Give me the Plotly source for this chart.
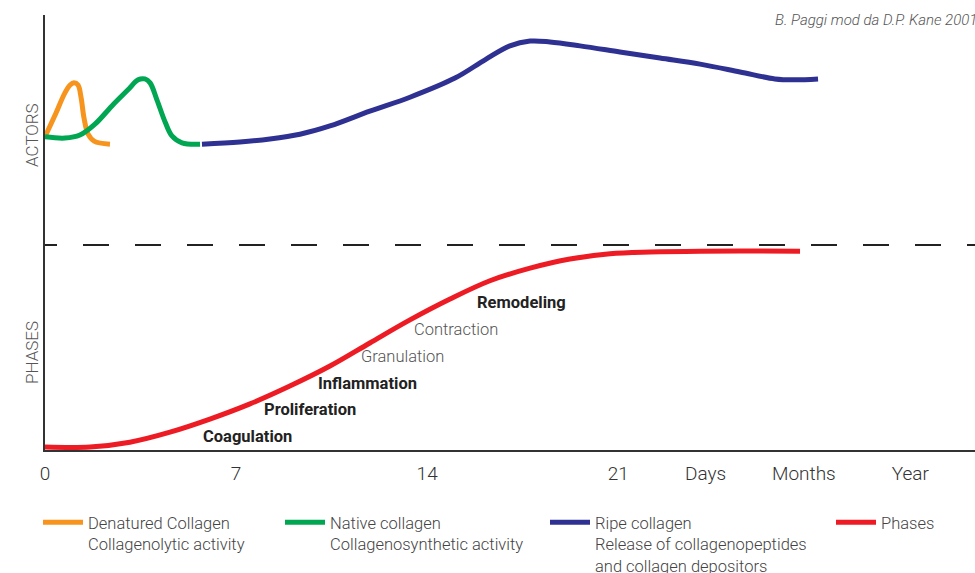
import plotly.graph_objects as go

# ---- data (x in days-like units, y in relative level 0..100) ----
denat_x = [0, 0.37, 0.73, 0.92, 1.06, 1.21, 1.32, 1.43, 1.58, 1.80, 2.38]
denat_y = [72.0, 77.0, 82.1, 83.9, 84.4, 83.9, 81.1, 76.3, 72.6, 71.0, 70.3]

native_x = [0, 0.73, 1.28, 1.83, 2.45, 3.04, 3.41, 3.66, 3.85, 4.10, 4.40, 4.65, 5.02, 5.68]
native_y = [72.0, 71.7, 72.4, 74.9, 79.1, 82.8, 85.1, 85.3, 84.4, 80.5, 75.4, 72.2, 70.6, 70.3]

ripe_x = [5.75, 7.14, 8.24, 9.34, 10.44, 11.90, 13.37, 15.02, 16.12, 17.03, 17.77, 18.50,
          19.60, 21.06, 22.53, 24.0, 25.46, 26.74, 27.47, 28.32]
ripe_y = [70.3, 70.8, 71.5, 72.6, 74.5, 77.9, 81.1, 85.5, 89.7, 92.9, 94.0, 93.8,
          92.9, 91.5, 90.1, 88.7, 86.9, 85.3, 85.1, 85.3]

phase_x = [0, 1.65, 3.11, 4.58, 6.04, 7.51, 8.97, 10.44, 11.90, 13.37, 14.84, 16.30,
           17.77, 19.23, 20.70, 22.16, 24.0, 27.66]
phase_y = [0.7, 0.7, 1.8, 4.1, 7.1, 10.6, 14.7, 19.3, 24.6, 29.9, 34.7, 38.9,
           41.8, 43.9, 45.1, 45.5, 45.7, 45.7]

divider_y = 47.1

phase_names = ["Coagulation", "Proliferation", "Inflammation", "Granulation", "Contraction", "Remodeling"]
phase_lx = [7.40, 9.71, 11.83, 13.11, 15.05, 17.47]
phase_ly = [3.0, 9.2, 15.2, 21.6, 27.6, 33.8]
phase_bold = [True, True, True, False, False, True]

tick_vals = [0, 7, 14, 21, 24.2, 27.8, 31.7]
tick_text = ["0", "7", "14", "21", "Days", "Months", "Year"]

legend_names = [
    "Denatured Collagen<br>Collagenolytic activity",
    "Native collagen<br>Collagenosynthetic activity",
    "Ripe collagen<br>Release of collagenopeptides<br>and collagen depositors",
    "Phases",
]

FONT = "Roboto"
colors = ["#F7941D", "#00A651", "#2E3192", "#ED1C24"]

fig = go.Figure()
series = [(denat_x, denat_y), (native_x, native_y), (ripe_x, ripe_y), (phase_x, phase_y)]
legend_ids = ["legend", "legend2", "legend3", "legend4"]
for (xs, ys), name, col, lg in zip(series, legend_names, colors, legend_ids):
    fig.add_trace(go.Scatter(
        x=xs, y=ys, mode="lines", name=name,
        line=dict(color=col, width=5, shape="spline", smoothing=1.0),
        legend=lg, hoverinfo="skip",
    ))

XMAX = 34.07
# dashed divider
dash = "12px,26px" + ",26px,26px" * 18
fig.add_shape(type="line", x0=0, x1=XMAX, y0=divider_y, y1=divider_y,
              xref="x", yref="y", line=dict(color="#222", width=2, dash=dash))

# phase labels
for name, lx, ly, b in zip(phase_names, phase_lx, phase_ly, phase_bold):
    fig.add_annotation(
        x=lx, y=ly, xref="x", yref="y", showarrow=False,
        text=f"<b>{name}</b>" if b else name,
        font=dict(family=FONT, size=16.5, color="#222" if b else "#555",
                  weight=700 if b else 300),
    )

# side labels
fig.add_annotation(x=-0.027, y=72.4, xref="paper", yref="y", text="ACTORS", textangle=-90,
                   showarrow=False, font=dict(family=FONT, size=17, color="#555", weight=300))
fig.add_annotation(x=-0.027, y=22.5, xref="paper", yref="y", text="PHASES", textangle=-90,
                   showarrow=False, font=dict(family=FONT, size=17, color="#555", weight=300))

# credit
fig.add_annotation(x=1.004, y=0.9885, xref="paper", yref="paper", xanchor="right", yanchor="middle",
                   text="<i>B. Paggi mod da D.P. Kane 2001</i>", showarrow=False,
                   font=dict(family=FONT, size=15, color="#555", weight=300))

legend_x_px = [38, 280, 545, 831]
leg_common = dict(orientation="h", yanchor="top", xanchor="left", valign="top",
                  bgcolor="rgba(0,0,0,0)", itemwidth=40,
                  font=dict(family=FONT, size=16.5, color="#444", weight=300),
                  itemclick=False, itemdoubleclick=False, tracegroupgap=0)
layout_legends = {}
for lg, px in zip(legend_ids, legend_x_px):
    layout_legends[lg] = dict(x=(px - 45) / 930, y=-0.1264, **leg_common)

fig.update_layout(
    width=975, height=573,
    margin=dict(l=45, r=0, t=15, b=123, autoexpand=False),
    paper_bgcolor="white", plot_bgcolor="white",
    showlegend=True,
    font=dict(family=FONT),
    xaxis=dict(range=[0, XMAX], showgrid=False, zeroline=False, showline=True,
               linecolor="#333", linewidth=2, tickvals=tick_vals, ticktext=tick_text,
               ticks="", ticklabelstandoff=5,
               tickfont=dict(family=FONT, size=19, color="#333", weight=300), fixedrange=True),
    yaxis=dict(range=[0, 100], showgrid=False, zeroline=False, showline=True,
               linecolor="#333", linewidth=2, showticklabels=False, ticks="", fixedrange=True),
    **layout_legends,
)

fig.write_html("out.html", config={"displayModeBar": False},
               post_script="document.body.style.margin='0';document.body.style.overflow='hidden';")
